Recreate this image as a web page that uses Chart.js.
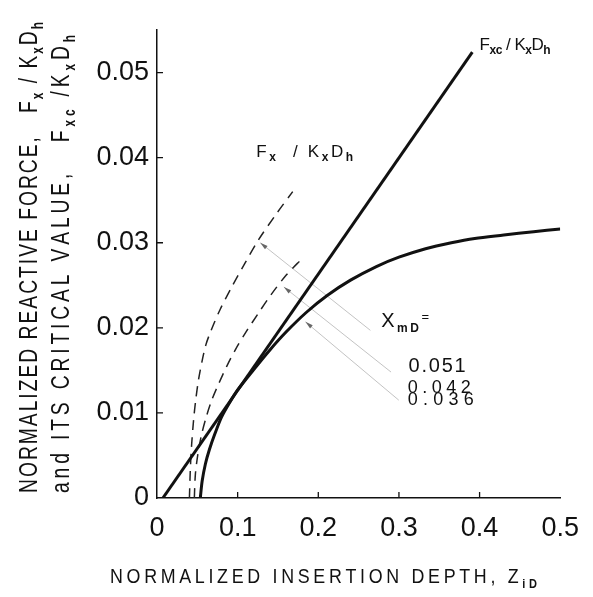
<!doctype html>
<html lang="en">
<head>
<meta charset="utf-8">
<title>Normalized reactive force</title>
<style>
  body { margin: 0; background: #fff; }
</style>
</head>
<body>
<canvas id="forceChart" width="593" height="597"></canvas>
<script src="https://cdn.jsdelivr.net/npm/chart.js"></script>
<script>
// tick values and labels
const xTicks = [0, 0.1, 0.2, 0.3, 0.4, 0.5];
const xTickLabels = ['0', '0.1', '0.2', '0.3', '0.4', '0.5'];
const yTicks = [0, 0.01, 0.02, 0.03, 0.04, 0.05];
const yTickLabels = ['0', '0.01', '0.02', '0.03', '0.04', '0.05'];

// critical value Fxc/KxDh (straight line)
const fxcDepth = [0.0073, 0.391];
const fxcForce = [0, 0.0524];

// Fx/KxDh, XmD = 0.036 (solid)
const fx036Depth = [0.0537, 0.056, 0.060, 0.065, 0.072, 0.080, 0.090, 0.100, 0.120, 0.140, 0.160, 0.185, 0.211, 0.240, 0.272, 0.300, 0.333, 0.365, 0.394, 0.430, 0.467, 0.500];
const fx036Force = [0, 0.0020, 0.0040, 0.0057, 0.0076, 0.0095, 0.0112, 0.0127, 0.0151, 0.0174, 0.0195, 0.0218, 0.0238, 0.0256, 0.0272, 0.0283, 0.0293, 0.0300, 0.0305, 0.0309, 0.0313, 0.0316];

// Fx/KxDh, XmD = 0.051 (dashed)
const fx051Depth = [0.0402, 0.0413, 0.0429, 0.0454, 0.048, 0.0515, 0.0557, 0.0606, 0.0671, 0.078, 0.0927, 0.1091, 0.1256, 0.1488, 0.1683];
const fx051Force = [0, 0.0033, 0.0062, 0.0092, 0.0115, 0.0139, 0.0160, 0.0180, 0.0197, 0.0221, 0.0248, 0.0276, 0.0303, 0.0335, 0.0360];

// Fx/KxDh, XmD = 0.042 (dashed)
const fx042Depth = [0.0463, 0.0476, 0.0506, 0.0549, 0.061, 0.0683, 0.0768, 0.0866, 0.0976, 0.111, 0.1256, 0.1415, 0.1585, 0.1744, 0.1817];
const fx042Force = [0, 0.0028, 0.0051, 0.0073, 0.0095, 0.0116, 0.0135, 0.0155, 0.0175, 0.0196, 0.0217, 0.0239, 0.0260, 0.0276, 0.0282];

// pointer arrows (head first, then tail)
const arrow051Depth = [0.128, 0.2646];
const arrow051Force = [0.0300, 0.0197];
const arrow042Depth = [0.1573, 0.2902];
const arrow042Force = [0.0248, 0.0148];
const arrow036Depth = [0.1841, 0.2998];
const arrow036Force = [0.0207, 0.0115];

const pair = (xs, ys) => xs.map((x, i) => ({ x: x, y: ys[i] }));

const MAIN = 'Liberation Sans, Arial, sans-serif';

// text with subscripts, drawn char by char and spread to a width
function drawRich(ctx, segs, x, y, width, sx) {
    const items = [];
    segs.forEach(s => {
        ctx.font = s.font;
        for (const ch of s.t) {
            items.push({ ch: ch, font: s.font, dy: s.dy || 0, w: ctx.measureText(ch).width * sx });
        }
    });
    const nat = items.reduce((a, b) => a + b.w, 0);
    const gap = width && items.length > 1 ? (width - nat) / (items.length - 1) : 0;
    let cx = x;
    items.forEach(it => {
        ctx.font = it.font;
        ctx.save();
        ctx.translate(cx, y + it.dy);
        ctx.scale(sx, 1);
        ctx.fillText(it.ch, 0, 0);
        ctx.restore();
        cx += it.w + gap;
    });
}

const F17 = '17px ' + MAIN, S12 = 'bold 12px ' + MAIN;
const notes = [
    { x: 0.40, y: 0.0527, w: 71, segs: [{ t: 'F', font: F17 }, { t: 'xc', font: S12, dy: 4 }, { t: ' / K', font: F17 }, { t: 'x', font: S12, dy: 4 }, { t: 'D', font: F17 }, { t: 'h', font: S12, dy: 4 }] },
    { x: 0.123, y: 0.0401, w: 97, segs: [{ t: 'F', font: F17 }, { t: 'x', font: S12, dy: 4 }, { t: '  / K', font: F17 }, { t: 'x', font: S12, dy: 4 }, { t: 'D', font: F17 }, { t: 'h', font: S12, dy: 4 }] },
    { x: 0.278, y: 0.0201, w: 48, segs: [{ t: 'X', font: '20px ' + MAIN }, { t: 'mD', font: 'bold 12px ' + MAIN, dy: 5 }, { t: '=', font: '13px ' + MAIN, dy: -6 }] },
    { x: 0.312, y: 0.01482, w: 57, segs: [{ t: '0.051', font: '20px ' + MAIN }] },
    { x: 0.311, y: 0.01235, w: 63, segs: [{ t: '0.042', font: '18px ' + MAIN }] },
    { x: 0.311, y: 0.01094, w: 66, segs: [{ t: '0.036', font: '18px ' + MAIN }] }
];

const decorations = {
    id: 'decorations',
    afterDraw(chart) {
        const ctx = chart.ctx;
        const xs = chart.scales.x, ys = chart.scales.y;
        const area = chart.chartArea;
        ctx.save();
        ctx.fillStyle = '#111';
        ctx.strokeStyle = '#111';
        ctx.textBaseline = 'alphabetic';
        ctx.textAlign = 'left';

        // inward ticks
        ctx.lineWidth = 1.3;
        ctx.beginPath();
        xTicks.slice(1, -1).forEach(v => {
            const px = xs.getPixelForValue(v);
            ctx.moveTo(px, area.bottom);
            ctx.lineTo(px, area.bottom - 6);
        });
        yTicks.slice(1).forEach(v => {
            const py = ys.getPixelForValue(v);
            ctx.moveTo(area.left, py);
            ctx.lineTo(area.left + 6, py);
        });
        ctx.stroke();

        // arrowheads at the first point of each arrow dataset
        chart.data.datasets.forEach((ds, i) => {
            if (!ds.arrow) return;
            const pts = chart.getDatasetMeta(i).data;
            const h = pts[0], t = pts[1];
            const ang = Math.atan2(h.y - t.y, h.x - t.x);
            ctx.fillStyle = '#666';
            ctx.beginPath();
            ctx.moveTo(h.x, h.y);
            ctx.lineTo(h.x - 8 * Math.cos(ang - 0.26), h.y - 8 * Math.sin(ang - 0.26));
            ctx.lineTo(h.x - 8 * Math.cos(ang + 0.26), h.y - 8 * Math.sin(ang + 0.26));
            ctx.closePath();
            ctx.fill();
        });

        // curve labels
        ctx.fillStyle = '#111';
        notes.forEach(n => {
            drawRich(ctx, n.segs, xs.getPixelForValue(n.x), ys.getPixelForValue(n.y), n.w, 1);
        });

        // x axis title
        drawRich(ctx, [
            { t: 'NORMALIZED INSERTION DEPTH, Z', font: '21px ' + MAIN },
            { t: 'iD', font: 'bold 13px ' + MAIN, dy: 5 }
        ], 110, 583, 427, 0.85);

        // y axis title, two lines
        const YF = '26px ' + MAIN, YS = 'bold 16px ' + MAIN;
        ctx.save();
        ctx.translate(37, 493);
        ctx.rotate(-Math.PI / 2);
        drawRich(ctx, [
            { t: 'NORMALIZED REACTIVE FORCE,   F', font: YF },
            { t: 'x', font: YS, dy: 6 },
            { t: ' / K', font: YF },
            { t: 'x', font: YS, dy: 6 },
            { t: 'D', font: YF },
            { t: 'h', font: YS, dy: 6 }
        ], 0, 0, 471, 0.74);
        ctx.restore();
        ctx.save();
        ctx.translate(69, 493);
        ctx.rotate(-Math.PI / 2);
        drawRich(ctx, [
            { t: 'and ITS CRITICAL VALUE,   F', font: YF },
            { t: 'xc', font: YS, dy: 6 },
            { t: ' /K', font: YF },
            { t: 'x', font: YS, dy: 6 },
            { t: 'D', font: YF },
            { t: 'h', font: YS, dy: 6 }
        ], 0, 0, 458, 0.74);
        ctx.restore();

        ctx.restore();
    }
};

const solid = { borderColor: '#111', borderWidth: 3, pointRadius: 0, showLine: true, fill: false };
const dashed = { borderColor: '#222', borderWidth: 1.5, borderDash: [10, 7], pointRadius: 0, showLine: true, fill: false, tension: 0.3 };
const arrow = { borderColor: '#b4b4b4', borderWidth: 0.8, pointRadius: 0, showLine: true, fill: false, arrow: true };

new Chart(document.getElementById('forceChart'), {
    type: 'scatter',
    data: {
        datasets: [
            Object.assign({ label: 'Fxc/KxDh', data: pair(fxcDepth, fxcForce) }, solid),
            Object.assign({ label: 'Fx/KxDh 0.036', data: pair(fx036Depth, fx036Force), tension: 0.3 }, solid),
            Object.assign({ label: 'Fx/KxDh 0.051', data: pair(fx051Depth, fx051Force) }, dashed),
            Object.assign({ label: 'Fx/KxDh 0.042', data: pair(fx042Depth, fx042Force) }, dashed),
            Object.assign({ label: 'arrow 0.051', data: pair(arrow051Depth, arrow051Force) }, arrow),
            Object.assign({ label: 'arrow 0.042', data: pair(arrow042Depth, arrow042Force) }, arrow),
            Object.assign({ label: 'arrow 0.036', data: pair(arrow036Depth, arrow036Force) }, arrow)
        ]
    },
    options: {
        responsive: false,
        animation: false,
        layout: { padding: { left: 0, right: 26, top: 30, bottom: 0 } },
        plugins: { legend: { display: false }, tooltip: { enabled: false } },
        scales: {
            x: {
                type: 'linear',
                min: 0,
                max: 0.5,
                grid: { display: false, drawTicks: false },
                border: { display: true, color: '#111', width: 1.5 },
                afterBuildTicks: s => { s.ticks = xTicks.map(v => ({ value: v })); },
                afterFit: s => { s.height = 99; },
                ticks: {
                    padding: 14,
                    color: '#111',
                    maxRotation: 0,
                    font: { family: MAIN, size: 27 },
                    callback: (v, i) => xTickLabels[i]
                }
            },
            y: {
                type: 'linear',
                min: 0,
                max: 0.055,
                grid: { display: false, drawTicks: false },
                border: { display: true, color: '#111', width: 1.5 },
                afterBuildTicks: s => { s.ticks = yTicks.map(v => ({ value: v })); },
                afterFit: s => { s.width = 157; },
                ticks: {
                    padding: 8,
                    color: '#111',
                    font: { family: MAIN, size: 27 },
                    callback: (v, i) => yTickLabels[i]
                }
            }
        }
    },
    plugins: [decorations]
});
</script>
</body>
</html>
